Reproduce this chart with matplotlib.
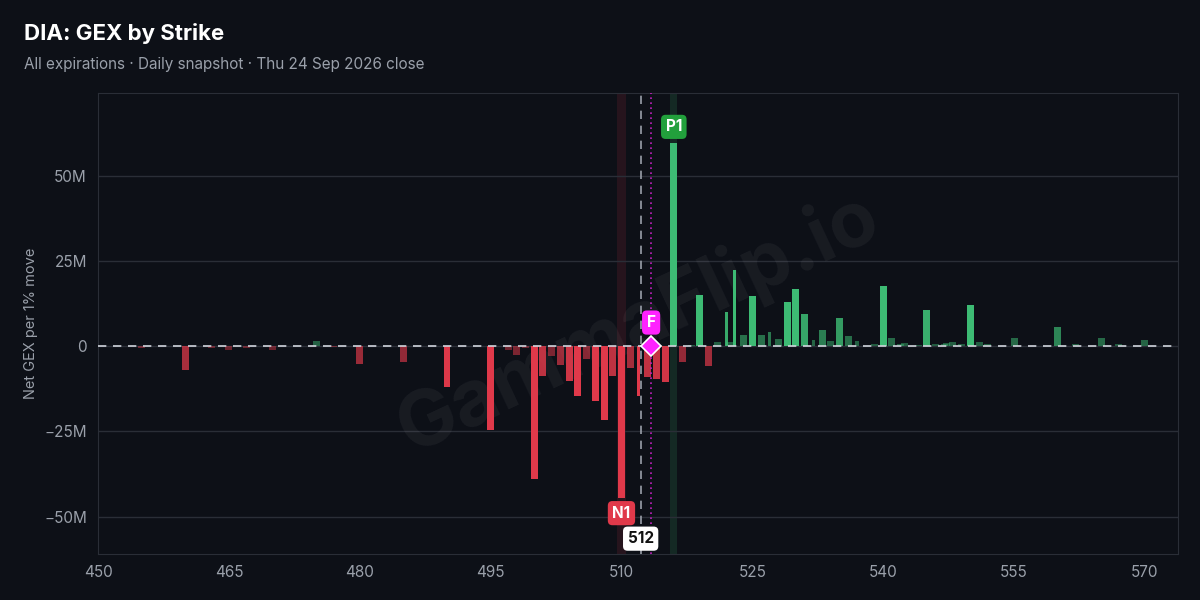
import matplotlib

matplotlib.use("Agg")
import matplotlib.pyplot as plt
import numpy as np

plt.rcParams["font.family"] = ["Inter", "DejaVu Sans"]

# strike -> net GEX (millions)
strikes = [455, 460, 463, 465, 467, 470, 475, 477, 480, 485, 490, 495,
           497, 498, 499, 500, 501, 502, 503, 504, 505, 506, 507, 508, 509, 510,
           511, 511.9, 513, 514, 515, 516, 517, 518, 519, 520, 521, 522, 522.4,
           523, 524, 525, 526, 527, 528, 529, 530, 531, 532, 533, 534, 535, 536,
           537, 539, 540, 541, 542, 542.4, 544, 545, 546, 547, 547.3, 548, 549,
           550, 551, 552, 555, 560, 562, 565, 567, 570]
gex = [-0.6, -6.8, -0.4, -1.0, -0.4, -1.0, 1.5, -0.3, -5.3, -4.6, -11.8, -24.6,
       -1.2, -2.5, -0.5, -39.0, -8.8, -2.7, -5.4, -10.3, -14.7, -3.6, -16.0, -21.5, -8.8, -44.6,
       -6.4, -14.7, -9.1, -9.5, -10.6, 59.8, -4.7, 0.5, 15.2, -5.9, 1.3, 10.0, 1.2,
       22.4, 3.3, 14.8, 3.3, 4.2, 2.2, 13.0, 16.9, 9.5, 1.9, 4.8, 1.6, 8.3, 3.0,
       1.6, 0.7, 17.7, 2.5, 0.7, 1.0, 0.3, 10.7, 0.7, 0.7, 1.0, 1.3, 0.7,
       12.2, 1.3, 0.7, 2.5, 5.7, 0.7, 2.5, 0.7, 1.9]
thin_strikes = [511.9, 522, 523, 527, 532, 537]

spot = 512.2
flip = 513.4
p1_strike, n1_strike = 516, 510
x_ticks = [450, 465, 480, 495, 510, 525, 540, 555, 570]
y_ticks = [-50, -25, 0, 25, 50]
y_labels = ["\u221250M", "\u221225M", "0", "25M", "50M"]

BG = "#0d1017"
GREEN = "#3dbb74"
RED = "#e0394a"

fig = plt.figure(figsize=(12, 6), dpi=100, facecolor=BG)
ax = fig.add_axes([0.0817, 0.0767, 0.9, 0.768], facecolor=BG)

for s, v in zip(strikes, gex):
    col = GREEN if v > 0 else RED
    alpha = 0.4 + 0.6 * min(1.0, abs(v) / 12.0)
    w = 0.35 if s in thin_strikes else 0.8
    ax.bar(s, v, width=w, color=col, alpha=alpha, zorder=3)

ax.axvspan(n1_strike - 0.5, n1_strike + 0.5, color=RED, alpha=0.12, zorder=1, lw=0)
ax.axvspan(p1_strike - 0.4, p1_strike + 0.4, color=GREEN, alpha=0.15, zorder=1, lw=0)
ax.axhline(0, color="#d0d4dc", lw=1.2, ls=(0, (5, 4)), zorder=4)
ax.axvline(spot, color="#9aa0aa", lw=1.2, ls=(0, (5, 4)), zorder=4)
ax.axvline(flip, color="#c020c0", lw=1.2, ls=(0, (1, 2)), zorder=4)
ax.plot(flip, 0, marker="D", ms=10, color="#ff22ff", mec="white", mew=1.2, zorder=6)

def tag(x, y, text, fc, tc="white"):
    ax.text(x, y, text, ha="center", va="center", color=tc, fontsize=11, fontweight="bold", zorder=7,
            bbox=dict(boxstyle="round,pad=0.3,rounding_size=0.3", fc=fc, ec="none"))

tag(p1_strike, 64.5, "P1", "#22a03c")
tag(n1_strike, -49, "N1", "#e0394a")
tag(flip, 7, "F", "#ff22ff")
tag(spot, -56.5, "512", "white", tc="#111111")

ax.text(0.5, 0.5, "GammaFlip.io", transform=ax.transAxes, fontsize=56, fontweight="bold",
        color="white", alpha=0.05, rotation=25, ha="center", va="center", zorder=2)

ax.set_xlim(450, 573.8)
ax.set_ylim(-61, 74.4)
ax.set_xticks(x_ticks)
ax.set_yticks(y_ticks)
ax.set_yticklabels(y_labels)
ax.grid(axis="y", color="#2a2e37", lw=1, zorder=0)
ax.tick_params(colors="#9aa0aa", labelsize=11, length=0, pad=8)
for sp in ax.spines.values():
    sp.set_color("#2a2e37")
ax.set_ylabel("Net GEX per 1% move", color="#9aa0aa", fontsize=10.5)

fig.text(0.02, 0.945, "DIA: GEX by Strike", color="white", fontsize=16, fontweight="bold", va="center")
fig.text(0.02, 0.893, "All expirations \u00b7 Daily snapshot \u00b7 Thu 24 Sep 2026 close",
         color="#9aa0aa", fontsize=11, va="center")

fig.savefig("out.png", dpi=100, facecolor=BG)
